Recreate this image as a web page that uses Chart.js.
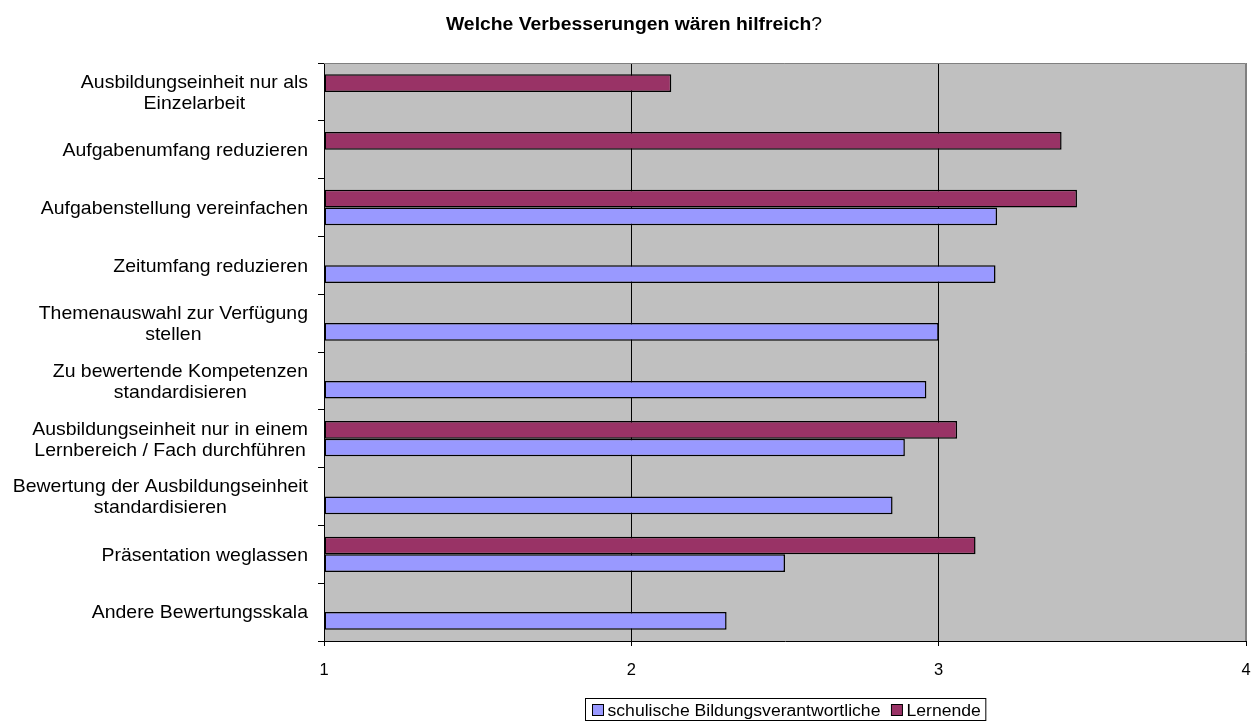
<!DOCTYPE html>
<html><head><meta charset="utf-8">
<script src="https://cdn.jsdelivr.net/npm/chart.js@4"></script>
<style>html,body{margin:0;padding:0;background:#fff}</style>
</head><body>
<canvas id="c" width="1257" height="722"></canvas>
<script>
// ---- data ----
const categories = [
  ["Ausbildungseinheit nur als", "Einzelarbeit"],
  ["Aufgabenumfang reduzieren"],
  ["Aufgabenstellung vereinfachen"],
  ["Zeitumfang reduzieren"],
  ["Themenauswahl zur Verfügung", "stellen"],
  ["Zu bewertende Kompetenzen", "standardisieren"],
  ["Ausbildungseinheit nur in einem", "Lernbereich / Fach durchführen"],
  ["Bewertung der Ausbildungseinheit", "standardisieren"],
  ["Präsentation weglassen"],
  ["Andere Bewertungsskala"]
];
const lernende   = [2.13, 3.40, 3.45, null, null, null, 3.06, null, 3.12, null];
const schulische = [null, null, 3.19, 3.185, 3.00, 2.96, 2.89, 2.85, 2.50, 2.31];
const seriesLernende = "Lernende";
const seriesSchulische = "schulische Bildungsverantwortliche";
const xTickValues = [1, 2, 3, 4];
const titleBold = "Welche Verbesserungen wären hilfreich";
const titleRest = "?";

// ---- styles ----
const COL_L = "#993366";
const COL_S = "#9999FF";
const FONT = '"Liberation Sans", Arial, sans-serif';
const SX = 1.1;

function sText(ctx, text, x, y, align, font, color) {
  ctx.save();
  ctx.font = font;
  ctx.fillStyle = color || "#000";
  ctx.textBaseline = "alphabetic";
  ctx.textAlign = "left";
  const w = ctx.measureText(text).width * SX;
  const left = align === "center" ? x - w / 2 : (align === "right" ? x - w : x);
  ctx.translate(left, y);
  ctx.scale(SX, 1);
  ctx.fillText(text, 0, 0);
  ctx.restore();
  return w;
}
function sWidth(ctx, text, font) {
  ctx.save(); ctx.font = font;
  const w = ctx.measureText(text).width * SX;
  ctx.restore(); return w;
}

const decor = {
  id: "decor",
  beforeDraw(chart) {
    const ctx = chart.ctx, a = chart.chartArea;
    ctx.save();
    ctx.fillStyle = "#fff";
    ctx.fillRect(0, 0, chart.width, chart.height);
    ctx.fillStyle = "#C0C0C0";
    ctx.fillRect(a.left, a.top, a.right - a.left, a.bottom - a.top);
    ctx.restore();
  },
  afterDraw(chart) {
    const ctx = chart.ctx, a = chart.chartArea;
    // top & right border
    ctx.save();
    ctx.strokeStyle = "#808080";
    ctx.lineWidth = 1;
    ctx.beginPath();
    ctx.moveTo(a.left, a.top + 0.5); ctx.lineTo(a.right - 0.5, a.top + 0.5);
    ctx.lineTo(a.right - 0.5, a.bottom);
    ctx.stroke();
    ctx.restore();

    // y labels: block right-aligned, lines centered within block
    const yScale = chart.scales.y;
    const lblFont = "17.7px " + FONT;
    const rightEdge = a.left - 16;
    categories.forEach((lines, i) => {
      const cy = yScale.getPixelForValue(i);
      const widths = lines.map(t => sWidth(ctx, t, lblFont));
      const maxW = Math.max(...widths);
      const cx = rightEdge - maxW / 2;
      const lh = 21;
      const n = lines.length;
      lines.forEach((t, k) => {
        const base = cy + (k - (n - 1) / 2) * lh + 6.3;
        sText(ctx, t, cx, base, "center", lblFont, "#000");
      });
    });

    // title
    const tbFont = "bold 17.6px " + FONT;
    const trFont = "17.6px " + FONT;
    const w1 = sWidth(ctx, titleBold, tbFont), w2 = sWidth(ctx, titleRest, trFont);
    const tx = 634 - (w1 + w2) / 2;
    sText(ctx, titleBold, tx, 30, "left", tbFont, "#000");
    sText(ctx, titleRest, tx + w1, 30, "left", trFont, "#000");

    // legend (custom, boxed)
    const lgFont = "16px " + FONT;
    const items = [
      { label: seriesSchulische, color: COL_S },
      { label: seriesLernende, color: COL_L }
    ];
    const sq = 11, padL = 7, gapSq = 4, gapItem = 11, padR = 5;
    let total = padL;
    items.forEach((it, i) => {
      it.w = sWidth(ctx, it.label, lgFont);
      total += sq + gapSq + it.w + (i < items.length - 1 ? gapItem : 0);
    });
    total += padR;
    const cxL = (a.left + a.right) / 2;
    const bx = Math.round(cxL - total / 2) + 0.5;
    const by = 698.5, bh = 22;
    ctx.save();
    ctx.fillStyle = "#fff";
    ctx.fillRect(bx, by, total, bh);
    ctx.strokeStyle = "#000"; ctx.lineWidth = 1;
    ctx.strokeRect(bx, by, total, bh);
    let x = bx + padL;
    items.forEach((it) => {
      ctx.fillStyle = it.color;
      ctx.fillRect(x, 704.5, sq, sq);
      ctx.strokeStyle = "#000";
      ctx.strokeRect(x, 704.5, sq, sq);
      x += sq + gapSq;
      sText(ctx, it.label, x, 715.5, "left", lgFont, "#000");
      x += it.w + gapItem;
    });
    ctx.restore();
  }
};

new Chart(document.getElementById("c"), {
  type: "bar",
  data: {
    labels: categories,
    datasets: [
      { label: seriesLernende, data: lernende, backgroundColor: COL_L, borderColor: "#000",
        borderWidth: 1.5, borderSkipped: false, base: 1 },
      { label: seriesSchulische, data: schulische, backgroundColor: COL_S, borderColor: "#000",
        borderWidth: 1.5, borderSkipped: false, base: 1 }
    ]
  },
  options: {
    indexAxis: "y",
    responsive: false,
    animation: false,
    devicePixelRatio: 1,
    layout: { padding: { top: 63, right: 11, left: 0, bottom: 0 } },
    datasets: { bar: { categoryPercentage: 0.61, barPercentage: 1.0 } },
    plugins: { legend: { display: false }, title: { display: false }, tooltip: { enabled: false } },
    scales: {
      x: {
        type: "linear", min: 1, max: 4,
        afterBuildTicks: (s) => { s.ticks = xTickValues.map(v => ({ value: v })); },
        ticks: { color: "#000", font: { family: FONT, size: 16.5 }, padding: 15 },
        grid: {
          color: (c) => (c.tick && c.tick.value === 4 ? "#808080" : "#000"),
          lineWidth: 1, drawTicks: true, tickLength: 5, tickColor: "#000"
        },
        border: { display: true, color: "#000", width: 1 },
        afterFit: (s) => { s.height = 81; s.paddingLeft = 0; s.paddingRight = 0; }
      },
      y: {
        type: "category",
        ticks: { display: false },
        grid: { drawOnChartArea: false, drawTicks: true, tickLength: 6, color: "#000", offset: true },
        border: { display: true, color: "#000", width: 1 },
        afterFit: (s) => { s.width = 324; s.paddingTop = 0; s.paddingBottom = 0; }
      }
    }
  },
  plugins: [decor]
});
</script>
</body></html>
